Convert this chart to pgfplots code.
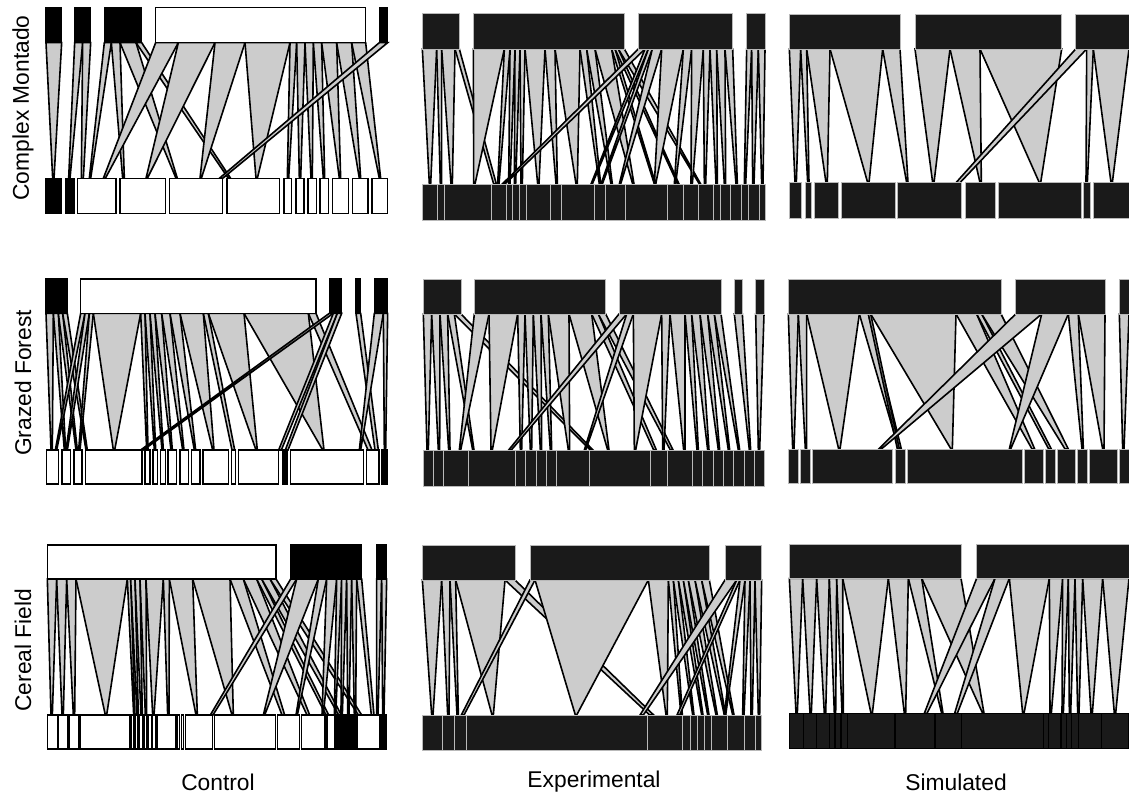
\documentclass[border=0pt]{standalone}
\usepackage{fontspec}
\setmainfont{Liberation Sans}
\usepackage{pgfplots}
\pgfplotsset{compat=1.18}
\definecolor{lg}{RGB}{204,204,204}
\definecolor{dk}{RGB}{26,26,26}
\definecolor{sep}{RGB}{185,185,185}
\newcommand\lk[4]{\addplot[lnk] coordinates {(#1,\Ty) (#2,\Ty) (#4,\By) (#3,\By)} -- cycle;}
\newcommand\tb[3]{\addplot[#1] coordinates {(#2,\Tt) (#3,\Tt) (#3,\Ty) (#2,\Ty)} -- cycle;}
\newcommand\bb[3]{\addplot[#1] coordinates {(#2,\By) (#3,\By) (#3,\Bb) (#2,\Bb)} -- cycle;}
\pgfplotsset{
 panel/.style n args={5}{at={(#1,#2)}, anchor=north west, scale only axis,
   width=#3, height=112.5pt, xmin=0, xmax=#4, ymin=0, ymax=#5, y dir=reverse,
   hide axis, clip=false},
 lnk/.style={fill=lg, draw=black, line width=0.8pt},
 W/.style={fill=white, draw=black, line width=0.8pt},
 K/.style={fill=black, draw=black, line width=0.8pt},
 D/.style={fill=dk, draw=sep, line width=0.5pt},
 DB/.style={fill=dk, draw=black, line width=0.8pt},
}
\begin{document}
\begin{tikzpicture}
\useasboundingbox (0,0) rectangle (564.5pt,-401pt);
% ---------- Panel 1: Control / Complex Montado
\def\Tt{22}\def\Ty{128}\def\By{535}\def\Bb{640}
\begin{axis}[panel={20pt}{0pt}{180pt}{1080}{675}]
\lk{18}{65}{38}{42}
\lk{104}{128}{86}{90}
\lk{128}{152}{124}{130}
\lk{193}{214}{148}{152}
\lk{214}{240}{248}{253}
\lk{240}{288}{408}{412}
\lk{288}{305}{565}{572}
\lk{347}{415}{190}{196}
\lk{415}{525}{318}{322}
\lk{525}{615}{480}{484}
\lk{615}{750}{648}{652}
\lk{750}{770}{742}{746}
\lk{770}{795}{778}{782}
\lk{795}{820}{813}{817}
\lk{820}{845}{850}{854}
\lk{845}{890}{898}{902}
\lk{890}{935}{958}{962}
\lk{935}{977}{1018}{1022}
\lk{1018}{1043}{538}{548}
\tb{K}{18}{65}\tb{K}{104}{152}\tb{K}{193}{305}\tb{W}{347}{977}\tb{K}{1018}{1043}
\bb{K}{18}{64}\bb{K}{76}{102}\bb{W}{112}{228}\bb{W}{240}{376}\bb{W}{388}{547}
\bb{W}{561}{718}\bb{W}{732}{755}\bb{W}{768}{792}\bb{W}{804}{829}\bb{W}{840}{865}
\bb{W}{878}{925}\bb{W}{937}{984}\bb{W}{996}{1043}
\end{axis}
% ---------- Panel 2: Experimental / Complex Montado
\def\Tt{40}\def\Ty{147}\def\By{552}\def\Bb{660}
\begin{axis}[panel={207.5pt}{0pt}{180pt}{1080}{675}]
\lk{22}{65}{43}{47}
\lk{65}{80}{76}{80}
\lk{80}{120}{108}{112}
\lk{120}{133}{236}{244}
\lk{175}{268}{176}{180}
\lk{268}{285}{248}{252}
\lk{285}{300}{281}{285}
\lk{300}{315}{298}{302}
\lk{315}{330}{318}{322}
\lk{330}{390}{368}{372}
\lk{390}{420}{423}{427}
\lk{420}{495}{483}{487}
\lk{495}{515}{553}{557}
\lk{515}{540}{588}{592}
\lk{540}{590}{653}{657}
\lk{590}{600}{718}{722}
\lk{600}{610}{788}{792}
\lk{610}{628}{853}{857}
\lk{670}{690}{262}{270}
\lk{690}{700}{528}{532}
\lk{700}{712}{558}{562}
\lk{712}{740}{613}{617}
\lk{740}{805}{718}{722}
\lk{805}{830}{778}{782}
\lk{830}{865}{828}{832}
\lk{865}{885}{868}{872}
\lk{885}{905}{903}{907}
\lk{905}{930}{928}{932}
\lk{930}{953}{963}{967}
\lk{995}{1010}{988}{992}
\lk{1010}{1030}{1013}{1017}
\lk{1030}{1050}{1040}{1044}
\tb{D}{22}{133}\tb{D}{175}{628}\tb{D}{670}{953}\tb{D}{995}{1050}
\bb{D}{22}{68}\bb{D}{68}{88}\bb{D}{88}{228}\bb{D}{228}{274}\bb{D}{274}{292}
\bb{D}{292}{312}\bb{D}{312}{334}\bb{D}{334}{405}\bb{D}{405}{438}\bb{D}{438}{537}
\bb{D}{537}{572}\bb{D}{572}{630}\bb{D}{630}{757}\bb{D}{757}{805}\bb{D}{805}{850}
\bb{D}{850}{895}\bb{D}{895}{916}\bb{D}{916}{947}\bb{D}{947}{979}\bb{D}{979}{999}
\bb{D}{999}{1032}\bb{D}{1032}{1050}
\end{axis}
% ---------- Panel 3: Simulated / Complex Montado
\def\Tt{42}\def\Ty{147}\def\By{548}\def\Bb{655}
\begin{axis}[panel={390pt}{0pt}{174.5pt}{1047}{675}]
\lk{28}{62}{45}{49}
\lk{62}{80}{83}{87}
\lk{80}{150}{138}{142}
\lk{150}{308}{263}{267}
\lk{308}{360}{380}{384}
\lk{405}{510}{458}{462}
\lk{510}{600}{600}{604}
\lk{600}{845}{778}{782}
\lk{887}{920}{528}{540}
\lk{920}{940}{918}{922}
\lk{940}{1047}{993}{997}
\tb{D}{28}{360}\tb{D}{405}{845}\tb{D}{887}{1047}
\bb{D}{28}{65}\bb{D}{75}{95}\bb{D}{103}{175}\bb{D}{185}{345}\bb{D}{353}{545}
\bb{D}{557}{645}\bb{D}{655}{903}\bb{D}{911}{931}\bb{D}{939}{1047}
\end{axis}
% ---------- Panel 4: Control / Grazed Forest
\def\Tt{27}\def\Ty{130}\def\By{540}\def\Bb{642}
\begin{axis}[panel={20pt}{-135pt}{180pt}{1080}{675}]
\lk{18}{40}{33}{37}
\lk{40}{55}{73}{77}
\lk{55}{68}{108}{112}
\lk{68}{82}{138}{142}
\lk{122}{135}{46}{50}
\lk{135}{148}{78}{82}
\lk{148}{160}{116}{120}
\lk{160}{302}{220}{224}
\lk{302}{315}{320}{324}
\lk{315}{330}{343}{347}
\lk{330}{345}{366}{370}
\lk{345}{365}{393}{397}
\lk{365}{390}{428}{432}
\lk{390}{420}{463}{467}
\lk{420}{490}{518}{522}
\lk{490}{505}{576}{584}
\lk{505}{612}{648}{652}
\lk{612}{805}{848}{852}
\lk{805}{828}{984}{996}
\lk{868}{880}{302}{310}
\lk{880}{892}{716}{724}
\lk{892}{905}{736}{744}
\lk{948}{962}{1005}{1015}
\lk{1003}{1030}{958}{962}
\lk{1030}{1043}{1033}{1037}
\tb{K}{18}{82}\tb{W}{122}{828}\tb{K}{868}{905}\tb{K}{948}{962}\tb{K}{1003}{1043}
\bb{W}{20}{56}\bb{W}{66}{92}\bb{W}{102}{126}\bb{W}{136}{306}\bb{W}{315}{330}
\bb{W}{339}{353}\bb{W}{361}{376}\bb{W}{384}{410}\bb{W}{420}{445}\bb{W}{454}{480}
\bb{W}{489}{565}\bb{W}{574}{587}\bb{W}{596}{716}\bb{K}{728}{742}\bb{W}{751}{970}
\bb{W}{980}{1017}\bb{K}{1025}{1043}
\end{axis}
% ---------- Panel 5: Experimental / Grazed Forest
\def\Tt{27}\def\Ty{132}\def\By{540}\def\Bb{648}
\begin{axis}[panel={207.5pt}{-135pt}{180pt}{1080}{675}]
\lk{25}{50}{36}{40}
\lk{50}{75}{70}{74}
\lk{75}{98}{101}{105}
\lk{98}{118}{173}{177}
\lk{118}{138}{526}{534}
\lk{178}{222}{133}{137}
\lk{222}{308}{228}{232}
\lk{308}{330}{316}{320}
\lk{330}{355}{346}{350}
\lk{355}{378}{376}{380}
\lk{378}{400}{406}{410}
\lk{400}{462}{460}{464}
\lk{462}{530}{578}{582}
\lk{530}{550}{716}{724}
\lk{550}{572}{766}{774}
\lk{612}{635}{281}{289}
\lk{635}{655}{508}{512}
\lk{655}{740}{658}{662}
\lk{740}{765}{743}{747}
\lk{765}{810}{806}{810}
\lk{810}{830}{846}{850}
\lk{830}{855}{878}{882}
\lk{855}{878}{910}{914}
\lk{878}{898}{940}{944}
\lk{898}{918}{970}{974}
\lk{958}{982}{1003}{1007}
\lk{1022}{1047}{1030}{1034}
\tb{D}{25}{138}\tb{D}{178}{572}\tb{D}{612}{918}\tb{D}{958}{982}\tb{D}{1022}{1047}
\bb{D}{25}{54}\bb{D}{54}{86}\bb{D}{86}{160}\bb{D}{160}{300}\bb{D}{300}{332}
\bb{D}{332}{363}\bb{D}{363}{393}\bb{D}{393}{425}\bb{D}{425}{522}\bb{D}{522}{705}
\bb{D}{705}{758}\bb{D}{758}{831}\bb{D}{831}{863}\bb{D}{863}{894}\bb{D}{894}{925}
\bb{D}{925}{956}\bb{D}{956}{988}\bb{D}{988}{1019}\bb{D}{1019}{1047}
\end{axis}
% ---------- Panel 6: Simulated / Grazed Forest
\def\Tt{27}\def\Ty{132}\def\By{537}\def\Bb{640}
\begin{axis}[panel={390pt}{-135pt}{174.5pt}{1047}{675}]
\lk{25}{55}{38}{42}
\lk{55}{80}{76}{80}
\lk{80}{238}{176}{180}
\lk{238}{265}{356}{364}
\lk{265}{272}{352}{358}
\lk{272}{528}{513}{517}
\lk{528}{590}{756}{764}
\lk{590}{605}{806}{814}
\lk{605}{663}{855}{865}
\lk{707}{785}{296}{304}
\lk{785}{865}{688}{692}
\lk{865}{895}{906}{910}
\lk{895}{975}{968}{972}
\lk{1018}{1047}{1028}{1032}
\tb{D}{25}{663}\tb{D}{707}{975}\tb{D}{1018}{1047}
\bb{D}{25}{56}\bb{D}{62}{90}\bb{D}{96}{338}\bb{D}{345}{375}\bb{D}{381}{727}
\bb{D}{733}{790}\bb{D}{796}{826}\bb{D}{832}{887}\bb{D}{893}{923}\bb{D}{929}{1011}
\bb{D}{1017}{1047}
\end{axis}
% ---------- Panel 7: Control / Cereal Field
\def\Tt{30}\def\Ty{132}\def\By{540}\def\Bb{642}
\begin{axis}[panel={20pt}{-267.5pt}{180pt}{1080}{675}]
\lk{22}{50}{33}{37}
\lk{50}{80}{66}{70}
\lk{80}{108}{100}{104}
\lk{108}{262}{196}{200}
\lk{262}{272}{281}{285}
\lk{272}{285}{291}{295}
\lk{285}{300}{303}{307}
\lk{300}{318}{316}{320}
\lk{318}{370}{338}{342}
\lk{370}{388}{383}{387}
\lk{388}{458}{468}{472}
\lk{458}{570}{576}{580}
\lk{570}{610}{726}{734}
\lk{610}{650}{801}{809}
\lk{650}{665}{858}{866}
\lk{665}{690}{896}{904}
\lk{690}{708}{955}{965}
\lk{752}{770}{511}{519}
\lk{770}{835}{670}{674}
\lk{835}{860}{768}{772}
\lk{860}{890}{846}{850}
\lk{890}{905}{883}{887}
\lk{905}{920}{903}{907}
\lk{920}{935}{923}{927}
\lk{935}{950}{943}{947}
\lk{950}{965}{994}{1002}
\lk{1010}{1025}{1010}{1014}
\lk{1025}{1040}{1028}{1032}
\tb{W}{22}{708}\tb{K}{752}{965}\tb{K}{1010}{1040}
\bb{W}{22}{52}\bb{W}{56}{84}\bb{W}{88}{116}\bb{W}{120}{270}\bb{W}{274}{282}
\bb{W}{286}{294}\bb{W}{298}{308}\bb{W}{312}{320}\bb{W}{324}{334}\bb{W}{338}{348}
\bb{W}{352}{408}\bb{W}{412}{419}\bb{W}{424}{431}\bb{W}{436}{518}\bb{W}{524}{707}
\bb{W}{712}{778}\bb{W}{785}{855}\bb{W}{861}{885}\bb{K}{888}{906}\bb{W}{909}{912}
\bb{K}{914}{926}\bb{W}{929}{932}\bb{K}{934}{948}\bb{W}{952}{1018}\bb{K}{1022}{1040}
\end{axis}
% ---------- Panel 8: Experimental / Cereal Field
\def\Tt{32}\def\Ty{135}\def\By{540}\def\Bb{645}
\begin{axis}[panel={207.5pt}{-267.5pt}{180pt}{1080}{675}]
\lk{22}{80}{50}{54}
\lk{80}{105}{98}{102}
\lk{105}{122}{126}{130}
\lk{122}{270}{231}{235}
\lk{270}{300}{704}{716}
\lk{345}{360}{139}{147}
\lk{360}{700}{481}{485}
\lk{700}{760}{753}{757}
\lk{760}{775}{798}{802}
\lk{775}{790}{833}{837}
\lk{790}{805}{860}{864}
\lk{805}{820}{878}{882}
\lk{820}{840}{903}{907}
\lk{840}{860}{928}{932}
\lk{860}{883}{953}{957}
\lk{930}{965}{675}{685}
\lk{965}{975}{786}{794}
\lk{975}{990}{928}{932}
\lk{990}{1005}{983}{987}
\lk{1005}{1020}{1008}{1012}
\lk{1020}{1040}{1030}{1034}
\tb{D}{22}{300}\tb{D}{345}{883}\tb{D}{930}{1040}
\bb{D}{22}{83}\bb{D}{83}{118}\bb{D}{118}{153}\bb{D}{153}{698}\bb{D}{698}{803}
\bb{D}{803}{825}\bb{D}{825}{846}\bb{D}{846}{868}\bb{D}{868}{889}\bb{D}{889}{938}
\bb{D}{938}{988}\bb{D}{988}{1020}\bb{D}{1020}{1040}
\end{axis}
% ---------- Panel 9: Simulated / Cereal Field
\def\Tt{27}\def\Ty{130}\def\By{535}\def\Bb{640}
\begin{axis}[panel={390pt}{-267.5pt}{174.5pt}{1047}{675}]
\lk{28}{68}{48}{52}
\lk{68}{110}{90}{94}
\lk{110}{148}{133}{137}
\lk{148}{170}{163}{167}
\lk{170}{188}{186}{190}
\lk{188}{325}{273}{277}
\lk{325}{385}{373}{377}
\lk{385}{425}{485}{489}
\lk{425}{543}{608}{612}
\lk{590}{645}{433}{441}
\lk{645}{688}{524}{532}
\lk{688}{808}{728}{732}
\lk{808}{848}{810}{814}
\lk{848}{865}{846}{850}
\lk{865}{885}{868}{872}
\lk{885}{908}{893}{897}
\lk{908}{968}{933}{937}
\lk{968}{1047}{1003}{1007}
\tb{D}{28}{543}\tb{D}{590}{1047}
\bb{DB}{28}{70}\bb{DB}{70}{110}\bb{DB}{110}{148}\bb{DB}{148}{165}\bb{DB}{165}{183}
\bb{DB}{183}{203}\bb{DB}{203}{345}\bb{DB}{345}{465}\bb{DB}{465}{545}\bb{DB}{545}{790}
\bb{DB}{790}{805}\bb{DB}{805}{843}\bb{DB}{843}{860}\bb{DB}{860}{875}\bb{DB}{875}{895}
\bb{DB}{895}{965}\bb{DB}{965}{1047}
\end{axis}
% ---------- Labels
\begin{scope}[every node/.style={font=\fontsize{11.4}{13}\selectfont, inner sep=0pt}]
\node[rotate=90] at (11.5pt,-54pt) {Complex Montado};
\node[rotate=90] at (11.5pt,-191.5pt) {Grazed Forest};
\node[rotate=90] at (11.5pt,-325pt) {Cereal Field};
\node at (109pt,-391pt) {Control};
\node at (297pt,-391pt) {Experimental};
\node at (478pt,-391pt) {Simulated};
\end{scope}
\end{tikzpicture}
\end{document}
